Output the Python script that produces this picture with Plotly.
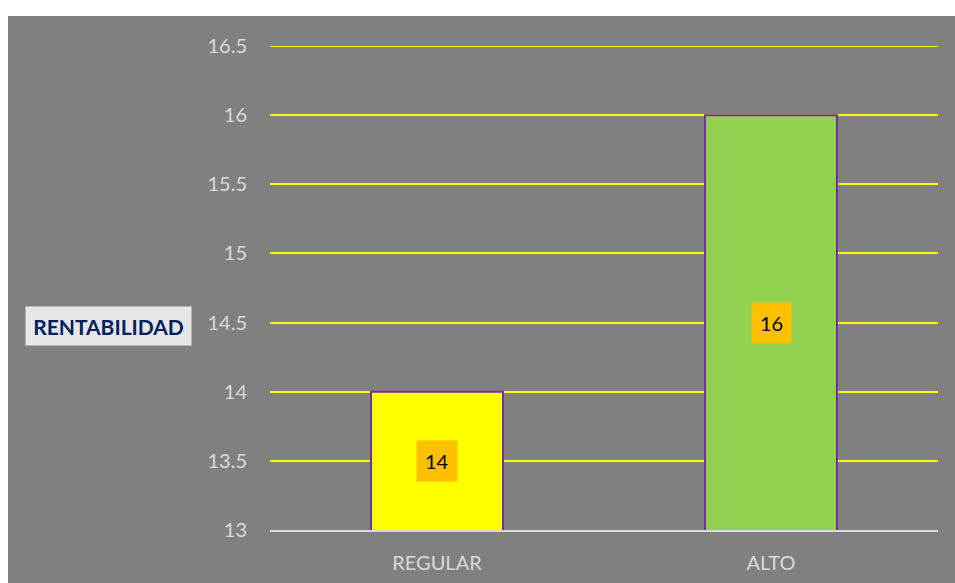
import plotly.graph_objects as go

categories = ["REGULAR", "ALTO"]
values = [14, 16]
bar_colors = ["#FFFF00", "#92D050"]
y_min, y_max = 13, 16.5
tick_vals = [13, 13.5, 14, 14.5, 15, 15.5, 16, 16.5]
tick_text = ["13", "13.5", "14", "14.5", "15", "15.5", "16", "16.5"]
axis_title = "RENTABILIDAD"

W, H = 955, 583
L, R, T, B = 270, 17, 46, 53
pw, ph = W - L - R, H - T - B

def px_to_paper_x(px):
    return (px - L) / pw

def px_to_paper_y(py):
    return (H - B - py) / ph

FONT = "Lato, Open Sans, sans-serif"

fig = go.Figure()
fig.add_trace(go.Bar(
    x=categories, y=values,
    marker=dict(color=bar_colors, line=dict(color="#7030A0", width=2)),
    width=0.395,
    hoverinfo="x+y",
))

annotations = []
for c, v in zip(categories, values):
    annotations.append(dict(
        x=c, y=(y_min + v) / 2, xref="x", yref="y", text=str(v), showarrow=False,
        xanchor="center", yanchor="middle",
        font=dict(family=FONT, size=20, color="#000000"),
        bgcolor="#FFC000", borderpad=8,
    ))
annotations.append(dict(
    x=px_to_paper_x(108), y=px_to_paper_y(326), xref="paper", yref="paper",
    xanchor="center", yanchor="middle",
    text="<b>" + axis_title + "</b>", showarrow=False,
    font=dict(family=FONT, size=21, color="#002060"),
    bgcolor="#E7E6E6", width=153, height=26, borderpad=6,
))

fig.update_layout(
    width=W, height=H,
    margin=dict(l=L, r=R, t=T, b=B, pad=0, autoexpand=False),
    paper_bgcolor="#FFFFFF",
    plot_bgcolor="#808080",
    showlegend=False,
    annotations=annotations,
    shapes=[
        dict(
            type="rect", xref="paper", yref="paper", layer="below",
            x0=px_to_paper_x(8), x1=px_to_paper_x(W + 5),
            y0=px_to_paper_y(H + 5), y1=px_to_paper_y(16),
            fillcolor="#808080", line=dict(width=0),
        ),
        dict(
            type="line", xref="paper", yref="y", layer="below",
            x0=0, x1=1, y0=y_max, y1=y_max,
            line=dict(color="#FFFF00", width=2),
        ),
    ],
    xaxis=dict(
        showgrid=False, showline=True, linecolor="#D9D9D9", linewidth=2,
        tickfont=dict(family=FONT, size=20, color="#D9D9D9"),
        ticks="", ticklabelstandoff=14, automargin=False,
    ),
    yaxis=dict(
        range=[y_min, y_max], tickvals=tick_vals, ticktext=tick_text,
        showgrid=True, gridcolor="#FFFF00", gridwidth=2,
        zeroline=False, showline=False, ticks="",
        tickfont=dict(family=FONT, size=20, color="#D9D9D9"),
        ticklabelstandoff=22, automargin=False,
    ),
)

fig.write_html("out.html")
